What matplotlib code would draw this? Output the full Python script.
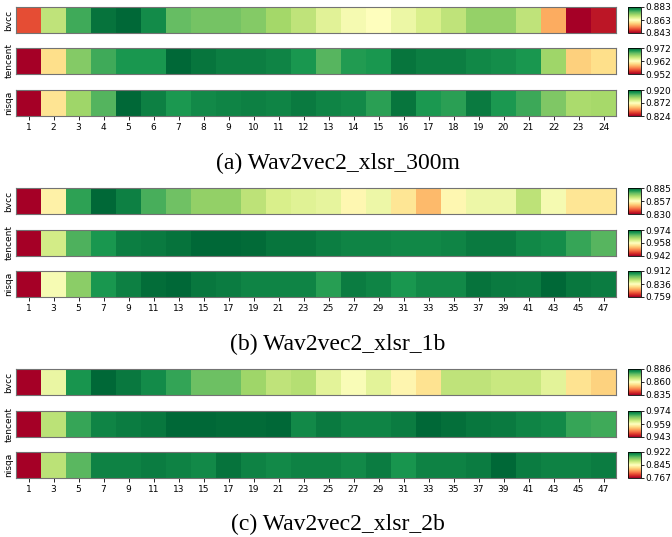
import numpy as np
import matplotlib
matplotlib.use("Agg")
import matplotlib.pyplot as plt

# layer scores (one list per metric and model)
bvcc_300m = [0.849, 0.869, 0.877, 0.882, 0.883, 0.880, 0.875, 0.874, 0.874, 0.873, 0.871, 0.869,
             0.866, 0.864, 0.863, 0.865, 0.867, 0.869, 0.872, 0.872, 0.869, 0.855, 0.843, 0.845]
tencent_300m = [0.952, 0.960, 0.967, 0.969, 0.970, 0.970, 0.972, 0.9714, 0.971, 0.971, 0.9708, 0.970,
                0.9684, 0.9698, 0.970, 0.9714, 0.971, 0.971, 0.9706, 0.9704, 0.970, 0.9662, 0.9594, 0.960]
nisqa_300m = [0.824, 0.864, 0.892, 0.903, 0.920, 0.915, 0.910, 0.913, 0.914, 0.915, 0.914, 0.916,
              0.914, 0.913, 0.908, 0.917, 0.910, 0.908, 0.916, 0.910, 0.906, 0.897, 0.890, 0.891]

bvcc_1b = [0.830, 0.855, 0.878, 0.885, 0.882, 0.876, 0.873, 0.870, 0.870, 0.866, 0.863, 0.862,
           0.861, 0.856, 0.860, 0.853, 0.848, 0.856, 0.860, 0.860, 0.866, 0.859, 0.853, 0.853]
tencent_1b = [0.942, 0.9615, 0.9686, 0.9708, 0.9724, 0.9727, 0.9732, 0.974, 0.974, 0.9737, 0.9730, 0.9730,
              0.9724, 0.9721, 0.9721, 0.9718, 0.9718, 0.9721, 0.9727, 0.9727, 0.9718, 0.9714, 0.9695, 0.9682]
nisqa_1b = [0.759, 0.839, 0.872, 0.897, 0.904, 0.910, 0.912, 0.907, 0.905, 0.903, 0.903, 0.903,
            0.894, 0.905, 0.903, 0.897, 0.901, 0.901, 0.908, 0.906, 0.905, 0.912, 0.907, 0.905]

bvcc_2b = [0.835, 0.863, 0.881, 0.8858, 0.884, 0.882, 0.879, 0.875, 0.875, 0.871, 0.868, 0.869,
           0.864, 0.861, 0.864, 0.859, 0.856, 0.868, 0.868, 0.867, 0.867, 0.864, 0.856, 0.854]
tencent_2b = [0.9432, 0.9635, 0.9697, 0.9721, 0.9726, 0.973, 0.974, 0.974, 0.9737, 0.9737, 0.974, 0.9718,
              0.9727, 0.9721, 0.9721, 0.9726, 0.974, 0.9735, 0.973, 0.9727, 0.9721, 0.9718, 0.9697, 0.9694]
nisqa_2b = [0.767, 0.869, 0.893, 0.913, 0.913, 0.915, 0.913, 0.911, 0.918, 0.913, 0.911, 0.913,
            0.913, 0.911, 0.915, 0.907, 0.913, 0.913, 0.915, 0.922, 0.915, 0.913, 0.913, 0.915]

metrics = ["bvcc", "tencent", "nisqa"]
labels_300m = [str(i) for i in range(1, 25)]
labels_big = [str(i) for i in range(1, 48, 2)]

panels = [
    ("(a) Wav2vec2_xlsr_300m", [bvcc_300m, tencent_300m, nisqa_300m], labels_300m),
    ("(b) Wav2vec2_xlsr_1b", [bvcc_1b, tencent_1b, nisqa_1b], labels_big),
    ("(c) Wav2vec2_xlsr_2b", [bvcc_2b, tencent_2b, nisqa_2b], labels_big),
]

W, H = 672, 537
fig = plt.figure(figsize=(W / 100, H / 100), dpi=100)


def rect(x0, y0, x1, y1):
    return [x0 / W, 1 - y1 / H, (x1 - x0) / W, (y1 - y0) / H]


# pixel rows of each strip (top), and caption y
row_tops = [[7, 48, 90], [188, 230, 271], [369, 411, 452]]
row_h = 26
caption_y = [163, 344, 524]

for (title, rows, xlabels), tops, cy in zip(panels, row_tops, caption_y):
    for k, (name, vals, top) in enumerate(zip(metrics, rows, tops)):
        vals = np.array(vals)
        ax = fig.add_axes(rect(16, top, 616, top + row_h))
        vmin, vmax = vals.min(), vals.max()
        im = ax.imshow(vals[None, :], cmap="RdYlGn", vmin=vmin, vmax=vmax,
                       aspect="auto", interpolation="nearest")
        ax.set_yticks([])
        ax.set_ylabel(name, fontsize=6.5, labelpad=2)
        for sp in ax.spines.values():
            sp.set_color("0.45")
            sp.set_linewidth(0.8)
        if k == 2:
            ax.set_xticks(np.arange(len(vals)))
            ax.set_xticklabels(xlabels, fontsize=6.5)
            ax.tick_params(axis="x", length=3, width=0.6, pad=2)
        else:
            ax.set_xticks([])

        cax = fig.add_axes(rect(628, top, 641, top + row_h))
        cb = fig.colorbar(im, cax=cax)
        ticks = np.linspace(vmin, vmax, 3)
        cb.set_ticks(ticks)
        cb.set_ticklabels(["%.3f" % t for t in ticks])
        cb.ax.tick_params(labelsize=6.5, length=2, width=0.6, pad=1)
        cb.outline.set_linewidth(0.6)

    fig.text(338 / W, 1 - cy / H, title, ha="center", va="center",
             fontsize=17, family="Liberation Serif")

fig.savefig("out.png", dpi=100)
